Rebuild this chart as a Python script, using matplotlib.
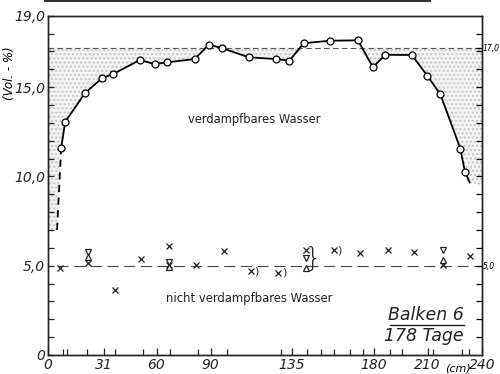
import numpy as np
import matplotlib
matplotlib.use("Agg")
import matplotlib.pyplot as plt
from matplotlib.lines import Line2D

# verdampfbares Wasser: measured points (cm, Vol.-%)
pos_cm = [7.3, 9.5, 20.4, 30.0, 36.0, 50.8, 59.0, 65.9, 81.1, 89.0, 96.0, 111.1,
          126.2, 133.5, 141.4, 156.1, 171.4, 179.7, 186.5, 201.2, 209.8, 217.0,
          228.0, 230.6]
water = [11.6, 13.05, 14.66, 15.51, 15.73, 16.52, 16.29, 16.39, 16.57, 17.38,
         17.19, 16.67, 16.57, 16.48, 17.46, 17.60, 17.62, 16.11, 16.81, 16.80,
         15.63, 14.59, 11.56, 10.24]
# dashed extension at the left end, short continuation at the right end
left_ext_x = [5.0, 7.3]
left_ext_y = [7.0, 11.6]
right_ext_x = [230.6, 233.2]
right_ext_y = [10.24, 9.66]
level_top = 17.2
level_bottom = 5.0

# nicht verdampfbares Wasser
cross_x = [6.6, 21.9, 37.0, 51.7, 66.8, 66.8, 82.0, 97.3, 112.4, 127.4, 142.7,
           158.3, 172.5, 187.8, 202.5, 218.4, 233.4]
cross_y = [4.87, 5.15, 3.65, 5.38, 6.08, 5.05, 5.06, 5.8, 4.68, 4.59, 5.9,
           5.86, 5.71, 5.86, 5.75, 5.06, 5.52]
tri_down_x = [21.9, 66.8, 142.7, 218.4]
tri_down_y = [5.77, 5.22, 5.43, 5.9]
tri_up_x = [21.9, 66.8, 142.7, 218.4]
tri_up_y = [5.5, 4.95, 4.87, 5.34]
paren_x = [112.4, 127.4, 158.3]
paren_y = [4.68, 4.59, 5.86]

xticks = [0, 31, 60, 90, 135, 180, 210, 240]
xminor = [8.3, 10.5, 21.5, 37, 52.4, 67.3, 82.8, 98.8, 129, 143, 151, 158,
          167, 174, 189, 196, 213, 229, 233]
yticks = [0, 5, 10, 15, 19]
ylabels = ["0", "5,0", "10,0", "15,0", "19,0"]

fig = plt.figure(figsize=(5, 3.74), dpi=100)
ax = fig.add_axes([0.096, 0.051, 0.868, 0.907])

# stippled area
fx = [0] + left_ext_x[:1] + pos_cm + right_ext_x[1:] + [240]
fy = [7.0] + left_ext_y[:1] + water + right_ext_y[1:] + [9.5]
ax.fill_between(fx, np.minimum(fy, level_top), level_top, facecolor="#f3f3f3",
                edgecolor="#c4c4c4", hatch="....", linewidth=0)

ax.axhline(level_top, color="#555555", lw=0.8, dashes=(5, 3))
ax.axhline(level_bottom, xmin=0.02, color="#444444", lw=0.8, dashes=(10, 5))

ax.plot(left_ext_x, left_ext_y, color="black", lw=1.3, dashes=(4, 3))
ax.plot(right_ext_x, right_ext_y, color="black", lw=1.3)
ax.plot(pos_cm, water, color="black", lw=1.3, marker="o", ms=5,
        mfc="white", mec="black", mew=0.9)

ax.plot(cross_x, cross_y, ls="none", marker="x", ms=4, mec="#222222", mew=0.9)
ax.plot(tri_down_x, tri_down_y, ls="none", marker="v", ms=5, mfc="white",
        mec="#222222", mew=0.9)
ax.plot(tri_up_x, tri_up_y, ls="none", marker="^", ms=5, mfc="white",
        mec="#222222", mew=0.9)
for bx, by in zip(paren_x, paren_y):
    ax.text(bx + 3.0, by, ")", fontsize=8, ha="center", va="center",
            color="#222222")
ax.text(146.5, 5.4, "}", fontsize=19, ha="center", va="center",
        color="#222222", fontweight="light")

ax.set_xlim(0, 240)
ax.set_ylim(0, 19)
ax.set_xticks(xticks)
ax.set_xticklabels([str(t) for t in xticks], fontsize=10, style="italic")
ax.set_xticks(xminor, minor=True)
ax.set_yticks(yticks)
ax.set_yticklabels(ylabels, fontsize=10, style="italic")
ax.set_yticks(range(0, 19), minor=True)
ax.tick_params(axis="both", which="both", direction="in", length=4, width=0.9,
               pad=2, colors="#222222")
ax.tick_params(axis="x", which="major", length=5)

ay = ax.twinx()
ay.set_ylim(0, 19)
ay.set_yticks([level_bottom, level_top])
ay.set_yticklabels(["5,0", "17,0"], fontsize=5.5, style="italic")
ay.set_yticks(range(1, 19), minor=True)
ay.tick_params(axis="y", which="both", direction="in", length=4, width=0.9,
               pad=0.5)

for a in (ax, ay):
    for s in a.spines.values():
        s.set_linewidth(1.0)
        s.set_color("#222222")

ax.text(-0.088, 0.83, "(Vol. - %)", transform=ax.transAxes, rotation=90,
        fontsize=8.5, style="italic", ha="center", va="center")
ax.text(0.945, -0.04, "(cm)", transform=ax.transAxes, fontsize=8, style="italic",
        ha="center", va="center")
ax.text(114, 13.2, "verdampfbares Wasser", fontsize=8.3, ha="center",
        va="center", color="#222222")
ax.text(111.5, 3.15, "nicht verdampfbares Wasser", fontsize=8.4, ha="center",
        va="center", color="#222222")
ax.text(230, 2.25, "Balken 6", fontsize=12.5, style="italic", ha="right",
        va="center", color="#222222")
ax.plot([189, 230], [1.65, 1.65], color="#222222", lw=1.0)
ax.text(230, 1.05, "178 Tage", fontsize=12.5, style="italic", ha="right",
        va="center", color="#222222")

# edge of the scanned figure above
fig.add_artist(Line2D([0.09, 0.86], [0.998, 0.998], color="#333333", lw=1.5))

fig.savefig("out.png", dpi=100)
